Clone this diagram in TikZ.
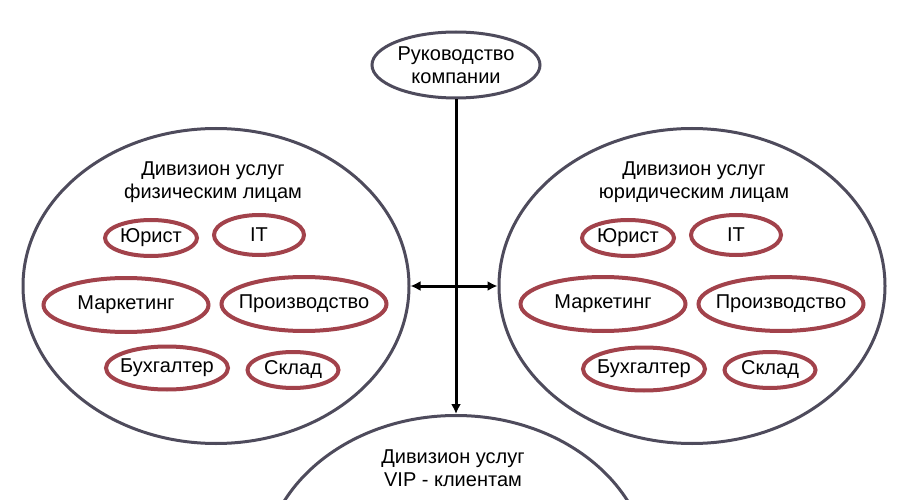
\documentclass[tikz,border=0pt]{standalone}
\usepackage{fontspec}
\setmainfont{Liberation Sans}
\usepackage{tikz}
\usetikzlibrary{arrows.meta,shapes.geometric}
\definecolor{divLine}{HTML}{4E4B5C}
\definecolor{deptLine}{HTML}{A2424B}

\begin{document}
\begin{tikzpicture}[x=1pt,y=-1pt,line width=3pt,
  font=\fontsize{20}{23}\selectfont,
  division/.style={ellipse,draw=divLine,minimum width=386pt,minimum height=315pt,inner sep=0pt},
  dept/.style={ellipse,draw=deptLine,line width=4pt,inner sep=0pt},
  link/.style={-{Latex[length=10pt,width=10pt]}}]
  \useasboundingbox (0,0) rectangle (900,500);
  \node[ellipse,draw=divLine,minimum width=168pt,minimum height=66pt,inner sep=0pt,align=center] (boss) at (456,65) {Руководство\\компании};
  \node[division] (fiz) at (216,286) {};
  \node[division] (jur) at (692,286) {};
  \node[division] (vip) at (456,573) {};
  \node[align=center] (fizTitle) at (213,182) {Дивизион услуг\\физическим лицам};
  \node[align=center] (jurTitle) at (694,182) {Дивизион услуг\\юридическим лицам};
  \node[align=center] (vipTitle) at (453,468) {Дивизион услуг\\VIP - клиентам};
  \node[dept,minimum width=92pt,minimum height=36pt,label=center:Юрист] (fizLaw) at (151,238) {};
  \node[dept,minimum width=90pt,minimum height=40pt,label=center:IT] (fizIT) at (259,235) {};
  \node[dept,minimum width=165pt,minimum height=54pt,label=center:Маркетинг] (fizMarket) at (126,305) {};
  \node[dept,minimum width=165pt,minimum height=54pt,label=center:Производство] (fizProd) at (304,304) {};
  \node[dept,minimum width=122pt,minimum height=43pt,label=center:Бухгалтер] (fizAcc) at (167,368) {};
  \node[dept,minimum width=91pt,minimum height=36pt,label=center:Склад] (fizStore) at (293,370) {};
  \node[dept,minimum width=92pt,minimum height=36pt,label=center:Юрист] (jurLaw) at (628,238) {};
  \node[dept,minimum width=90pt,minimum height=40pt,label=center:IT] (jurIT) at (736,235) {};
  \node[dept,minimum width=165pt,minimum height=54pt,label=center:Маркетинг] (jurMarket) at (603,304) {};
  \node[dept,minimum width=165pt,minimum height=54pt,label=center:Производство] (jurProd) at (781,304) {};
  \node[dept,minimum width=122pt,minimum height=43pt,label=center:Бухгалтер] (jurAcc) at (644,369) {};
  \node[dept,minimum width=91pt,minimum height=36pt,label=center:Склад] (jurStore) at (770,370) {};
  \draw[link] (boss) -- (vip);
  \draw[link,{Latex[length=10pt,width=10pt]}-{Latex[length=10pt,width=10pt]}] (fiz) -- (jur);
\end{tikzpicture}
\end{document}
